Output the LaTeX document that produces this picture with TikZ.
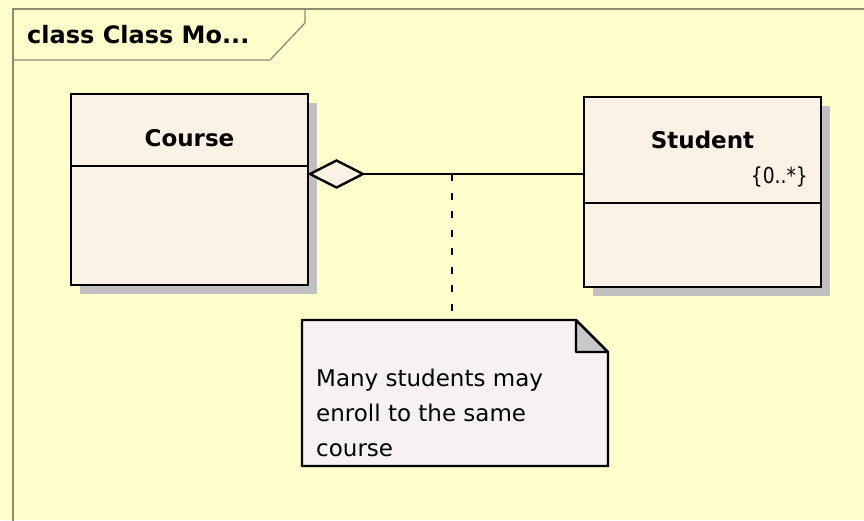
\documentclass[tikz,border=0pt]{standalone}
\usepackage{fontspec}
\setmainfont{DejaVu Sans}
\usepackage{xcolor}
\usepackage{graphicx}
\usetikzlibrary{shapes,arrows,positioning,shadows}

\definecolor{diagBg}{HTML}{FFFFCC}
\definecolor{frameGray}{HTML}{8C8C70}
\definecolor{classFill}{HTML}{FBF1E4}
\definecolor{shadowGray}{HTML}{C0C0C0}
\definecolor{noteFill}{HTML}{F5F1F5}
\definecolor{foldGray}{HTML}{C8C8C8}

\begin{document}
\begin{tikzpicture}[x=1pt, y=-1pt,
    class_head/.style ={rectangle, draw=black, line width=2.4pt, fill=classFill,
      inner sep=0pt, outer sep=0pt, minimum width=237pt,
      drop shadow={shadow xshift=9pt, shadow yshift=-9pt, fill=shadowGray, opacity=1}},
    class_body/.style ={class_head},
    class_name/.style ={font=\fontsize{23}{28}\selectfont\bfseries, inner sep=0pt},
    mult_text/.style ={font=\fontsize{22}{26}\selectfont, inner sep=0pt},
    aggr/.style ={diamond, draw=black, line width=2.4pt, fill=classFill,
      inner sep=0pt, outer sep=0pt, minimum width=53pt, minimum height=27pt},
    note_box/.style ={rectangle, fill=noteFill, inner sep=0pt, outer sep=0pt,
      minimum width=306pt, minimum height=146pt},
    note_text/.style ={font=\fontsize{23}{35}\selectfont, align=left, inner sep=0pt},
    frame_line/.style ={draw=frameGray, line width=1.3pt},
    line/.style ={draw, line width=2.4pt},
    dashed_link/.style ={draw, line width=2.8pt, dash pattern=on 7pt off 11.5pt}]
    \useasboundingbox (0,0) rectangle (864,520);
    \clip (0,0) rectangle (864,520);
    % diagram frame
    \fill[diagBg] (0,0) rectangle (864,520);
    \draw[frame_line] (13,540) -- (13,9) -- (880,9);
    \draw[frame_line] (13,60) -- (270,60) -- (305,23) -- (305,9);
    \node[font=\fontsize{24}{28}\selectfont\bfseries, inner sep=0pt, anchor=base west]
      (frameTitle) at (27,43) {class Class Mo...};
    % class Course
    \node[class_head, minimum height=72pt, anchor=north west] (courseHead) at (71,94) {};
    \node[class_body, minimum height=119pt, below=0pt of courseHead] (courseBody) {};
    \node[class_name, anchor=base] (courseName) at ([yshift=-52pt]courseHead.north) {Course};
    % class Student
    \node[class_head, minimum height=106pt, anchor=north west] (studentHead) at (584,97) {};
    \node[class_body, minimum height=84pt, below=0pt of studentHead] (studentBody) {};
    \node[class_name, anchor=base] (studentName) at ([yshift=-51pt]studentHead.north) {Student};
    \node[mult_text, anchor=base east] (studentMult)
      at ([xshift=-13pt, yshift=-86pt]studentHead.north east) {\scalebox{0.85}[1]{\{0..*\}}};
    % aggregation end
    \node[aggr, anchor=west] (aggDiamond) at ([xshift=2pt, yshift=-8pt]courseBody.north east) {};
    % note
    \node[note_box, anchor=north west] (note) at (302,320) {};
    \fill[diagBg] ([xshift=-32pt]note.north east) -- (note.north east)
      -- ([yshift=-32pt]note.north east) -- cycle;
    \filldraw[fill=foldGray, draw=black, line width=2.4pt, line join=round]
      ([xshift=-32pt]note.north east) -- ([xshift=-32pt, yshift=-32pt]note.north east)
      -- ([yshift=-32pt]note.north east) -- cycle;
    \draw[line width=2.4pt, line join=miter] (note.north west) -- ([xshift=-32pt]note.north east)
      -- ([yshift=-32pt]note.north east) -- (note.south east) -- (note.south west) -- cycle;
    \node[note_text, anchor=north west] (noteText) at ([xshift=14pt, yshift=-49pt]note.north west)
      {Many students may\\enroll to the same\\course};
    % connecting nodes with paths
    \coordinate (assocMid) at (452,174);
    \begin{scope}[every path/.style=line]
      \path (aggDiamond.east) -- (aggDiamond.east -| studentHead.west);
      \path [dashed_link] (assocMid) -- (assocMid |- note.north);
    \end{scope}
  \end{tikzpicture}
\end{document}
